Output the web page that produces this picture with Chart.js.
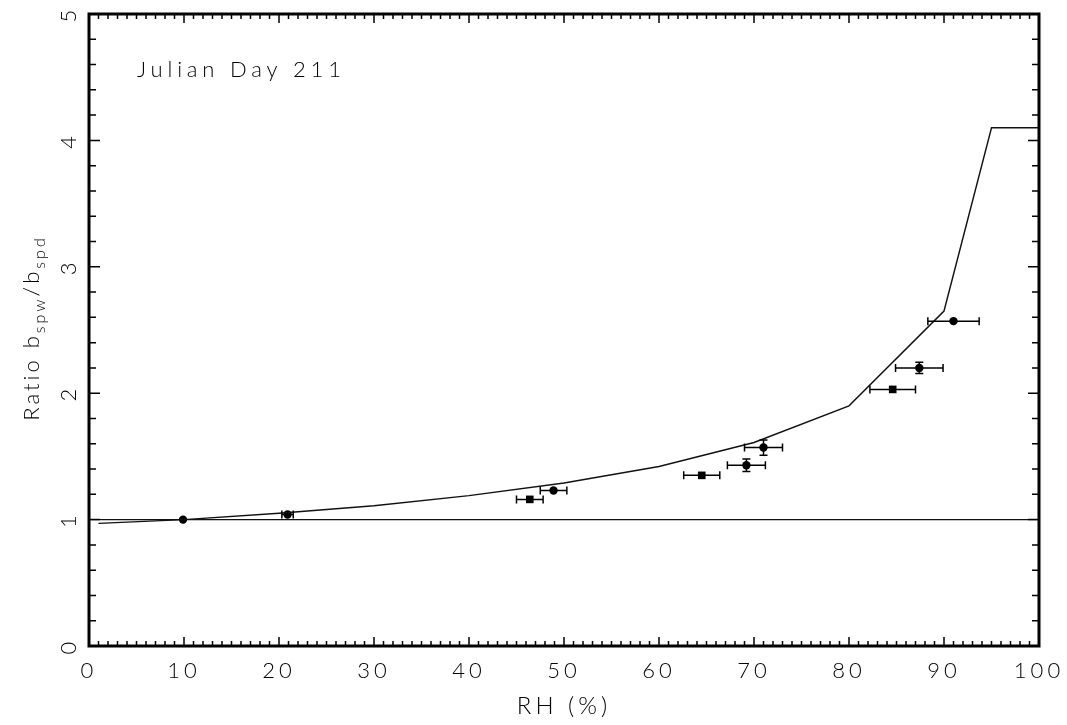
<!DOCTYPE html>
<html>
<head>
<meta charset="utf-8">
<script src="https://cdn.jsdelivr.net/npm/chart.js@4"></script>
<style>
html, body { margin: 0; padding: 0; background: #fff; }
#wrap { width: 1067px; height: 725px; }
</style>
</head>
<body>
<div id="wrap"><canvas id="ratioChart"></canvas></div>
<script>
// model curve (line)
const modelRh = [1, 10, 20, 30, 40, 50, 60, 70, 80, 90, 95, 100];
const modelRatio = [0.97, 1.0, 1.05, 1.11, 1.19, 1.29, 1.42, 1.61, 1.9, 2.65, 4.1, 4.1];
// reference line at ratio = 1
const unityRh = [0, 100];
const unityRatio = [1, 1];
// measured points, circles
const circleRh = [9.9, 20.9, 48.9, 69.2, 71.0, 87.4, 91.0];
const circleRatio = [1.0, 1.04, 1.23, 1.43, 1.57, 2.2, 2.57];
const circleRhErr = [0, 0.6, 1.4, 2.0, 2.0, 2.5, 2.7];
const circleRatioErr = [0, 0, 0, 0.05, 0.06, 0.045, 0];
// measured points, squares
const squareRh = [46.4, 64.5, 84.6];
const squareRatio = [1.16, 1.35, 2.03];
const squareRhErr = [1.4, 1.9, 2.4];
const squareRatioErr = [0, 0, 0];
// ticks
const xTickValues = [0, 10, 20, 30, 40, 50, 60, 70, 80, 90, 100];
const yTickValues = [0, 1, 2, 3, 4, 5];

const FONT = '"Lato", "DejaVu Sans", sans-serif';

const toPoints = (xs, ys) => xs.map((v, i) => ({ x: v, y: ys[i] }));

// wide letter spacing for all the axis text
const spacing = {
	id: 'spacing',
	beforeLayout(chart) {
		chart.ctx.letterSpacing = '4px';
	},
	beforeDraw(chart) {
		chart.ctx.letterSpacing = '4px';
	},
};

const errorBars = {
	id: 'errorBars',
	afterDatasetsDraw(chart) {
		const { ctx, scales: { x, y } } = chart;
		const cap = 4;
		ctx.save();
		ctx.strokeStyle = '#000';
		ctx.lineWidth = 1.5;
		chart.data.datasets.forEach((ds) => {
			if (!ds.errX) return;
			ds.data.forEach((p, i) => {
				const px = x.getPixelForValue(p.x);
				const py = y.getPixelForValue(p.y);
				const ex = ds.errX[i];
				const ey = ds.errY[i];
				ctx.beginPath();
				if (ex > 0) {
					const x0 = x.getPixelForValue(p.x - ex);
					const x1 = x.getPixelForValue(p.x + ex);
					ctx.moveTo(x0, py); ctx.lineTo(x1, py);
					ctx.moveTo(x0, py - cap); ctx.lineTo(x0, py + cap);
					ctx.moveTo(x1, py - cap); ctx.lineTo(x1, py + cap);
				}
				if (ey > 0) {
					const y0 = y.getPixelForValue(p.y - ey);
					const y1 = y.getPixelForValue(p.y + ey);
					ctx.moveTo(px, y0); ctx.lineTo(px, y1);
					ctx.moveTo(px - cap, y0); ctx.lineTo(px + cap, y0);
					ctx.moveTo(px - cap, y1); ctx.lineTo(px + cap, y1);
				}
				ctx.stroke();
			});
		});
		ctx.restore();
	},
};

const frameTicks = {
	id: 'frameTicks',
	afterDraw(chart) {
		const { ctx, chartArea: a, scales: { x, y } } = chart;
		ctx.save();
		ctx.strokeStyle = '#000';
		ctx.lineWidth = 1.5;
		ctx.beginPath();
		for (let i = 0; i <= 100; i++) {
			const px = x.getPixelForValue(i);
			const len = i % 10 === 0 ? 9 : 5;
			ctx.moveTo(px, a.bottom); ctx.lineTo(px, a.bottom - len);
			ctx.moveTo(px, a.top); ctx.lineTo(px, a.top + len);
		}
		for (let i = 0; i <= 25; i++) {
			const py = y.getPixelForValue(i * 0.2);
			const len = i % 5 === 0 ? 11 : 7;
			ctx.moveTo(a.left, py); ctx.lineTo(a.left + len, py);
			ctx.moveTo(a.right, py); ctx.lineTo(a.right - len, py);
		}
		ctx.stroke();
		ctx.lineWidth = 3;
		ctx.strokeRect(a.left, a.top, a.right - a.left, a.bottom - a.top);

		// label inside the plot
		ctx.fillStyle = '#000';
		ctx.font = '300 22px ' + FONT;
		ctx.letterSpacing = '4.8px';
		ctx.textBaseline = 'alphabetic';
		ctx.textAlign = 'left';
		ctx.fillText('Julian Day 211', 137, 77);

		// y axis title with subscripts
		const parts = [
			['Ratio b', 22, 0],
			['spw', 16, 6],
			['/b', 22, 0],
			['spd', 16, 6],
		];
		ctx.letterSpacing = '3px';
		let total = 0;
		parts.forEach((p) => {
			ctx.font = '300 ' + p[1] + 'px ' + FONT;
			total += ctx.measureText(p[0]).width;
		});
		ctx.translate(39, 328);
		ctx.rotate(-Math.PI / 2);
		let cx = -total / 2;
		parts.forEach((p) => {
			ctx.font = '300 ' + p[1] + 'px ' + FONT;
			ctx.fillText(p[0], cx, p[2]);
			cx += ctx.measureText(p[0]).width;
		});
		ctx.restore();
	},
};

new Chart(document.getElementById('ratioChart'), {
	type: 'scatter',
	data: {
		datasets: [
			{
				type: 'line',
				data: toPoints(modelRh, modelRatio),
				borderColor: '#111',
				borderWidth: 1.4,
				pointRadius: 0,
				tension: 0,
				fill: false,
			},
			{
				type: 'line',
				data: toPoints(unityRh, unityRatio),
				borderColor: '#111',
				borderWidth: 1.4,
				pointRadius: 0,
				fill: false,
			},
			{
				data: toPoints(circleRh, circleRatio),
				errX: circleRhErr,
				errY: circleRatioErr,
				pointStyle: 'circle',
				pointRadius: 4.2,
				backgroundColor: '#000',
				borderColor: '#000',
				borderWidth: 0,
			},
			{
				data: toPoints(squareRh, squareRatio),
				errX: squareRhErr,
				errY: squareRatioErr,
				pointStyle: 'rect',
				pointRadius: 5.4,
				backgroundColor: '#000',
				borderColor: '#000',
				borderWidth: 0,
			},
		],
	},
	options: {
		animation: false,
		responsive: true,
		maintainAspectRatio: false,
		layout: { padding: { top: 14, right: 28, left: 0, bottom: 0 } },
		plugins: {
			legend: { display: false },
			tooltip: { enabled: false },
		},
		scales: {
			x: {
				type: 'linear',
				min: 0,
				max: 100,
				grid: { display: false, drawTicks: false },
				border: { display: false },
				afterBuildTicks: (s) => { s.ticks = xTickValues.map((v) => ({ value: v })); },
				afterFit: (s) => {
					s.height = 79;
					s.paddingLeft = 0;
					s.paddingRight = 0;
				},
				ticks: {
					color: '#000',
					padding: 12,
					maxRotation: 0,
					autoSkip: false,
					font: { family: FONT, size: 22, weight: '300' },
				},
				title: {
					display: true,
					text: 'RH (%)',
					color: '#000',
					padding: { top: 0, bottom: 4 },
					font: { family: FONT, size: 24, weight: '300' },
				},
			},
			y: {
				type: 'linear',
				min: 0,
				max: 5,
				grid: { display: false, drawTicks: false },
				border: { display: false },
				afterBuildTicks: (s) => { s.ticks = yTickValues.map((v) => ({ value: v })); },
				afterFit: (s) => {
					s.width = 89;
					s.paddingTop = 0;
					s.paddingBottom = 0;
				},
				ticks: {
					color: '#000',
					padding: 12,
					minRotation: 90,
					maxRotation: 90,
					crossAlign: 'center',
					autoSkip: false,
					font: { family: FONT, size: 22, weight: '300' },
				},
			},
		},
	},
	plugins: [spacing, errorBars, frameTicks],
});
</script>
</body>
</html>
